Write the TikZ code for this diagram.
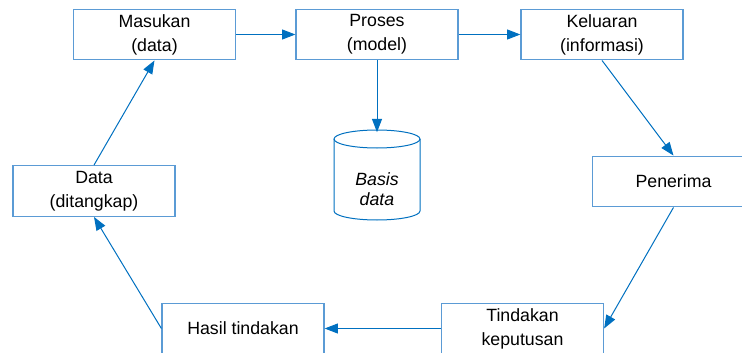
\documentclass[tikz,border=0pt]{standalone}
\usepackage{fontspec}
\setmainfont{Liberation Sans}
\usetikzlibrary{arrows.meta}
\definecolor{boxline}{RGB}{91,155,213}
\definecolor{arrline}{RGB}{0,112,192}

\begin{document}
\begin{tikzpicture}[x=0.75pt,y=-0.75pt,
    kotak/.style={draw=boxline,line width=0.9pt,minimum width=121.5pt,minimum height=38pt,
      align=center,inner sep=0pt,font=\fontsize{13.3}{18}\selectfont},
    panah/.style={draw=arrline,line width=0.75pt,-{Triangle[length=10pt,width=7.5pt]}}]
    \useasboundingbox (0,0) rectangle (742,353);

    \node (masukan)  at (154.5, 34.5) [kotak] {Masukan\\(data)};
    \node (proses)   at (377,   34.5) [kotak] {Proses\\(model)};
    \node (keluaran) at (602,   34.5) [kotak] {Keluaran\\(informasi)};
    \node (penerima) at (673.5, 181.5) [kotak] {Penerima};
    \node (tindakan) at (522.5, 328.5) [kotak] {Tindakan\\keputusan};
    \node (hasil)    at (243,   328.5) [kotak] {Hasil tindakan};
    \node (data)     at (94,    191)   [kotak] {Data\\(ditangkap)};

    % tabung basis data
    \draw [arrline, line width=0.75pt] (334,139) -- (334,211)
      arc [start angle=180, end angle=360, x radius=32.25pt, y radius=6.75pt] -- (420,139);
    \draw [arrline, line width=0.75pt] (377,139) ellipse [x radius=32.25pt, y radius=6.75pt];
    \coordinate (basis) at (377,132.25);
    \node (basistxt) at (377, 189) [align=center, inner sep=0pt,
      font=\fontsize{13.3}{15.5}\selectfont\itshape] {Basis\\data};

    \draw [panah] (masukan) -- (proses);
    \draw [panah] (proses) -- (keluaran);
    \draw [panah] (proses) -- (basis);
    \draw [panah] (keluaran.south) -- (penerima.north);
    \draw [panah] (penerima.south) -- (tindakan.east);
    \draw [panah] (tindakan) -- (hasil);
    \draw [panah] (hasil.west) -- (data.south);
    \draw [panah] (data.north) -- (masukan.south);
\end{tikzpicture}
\end{document}
